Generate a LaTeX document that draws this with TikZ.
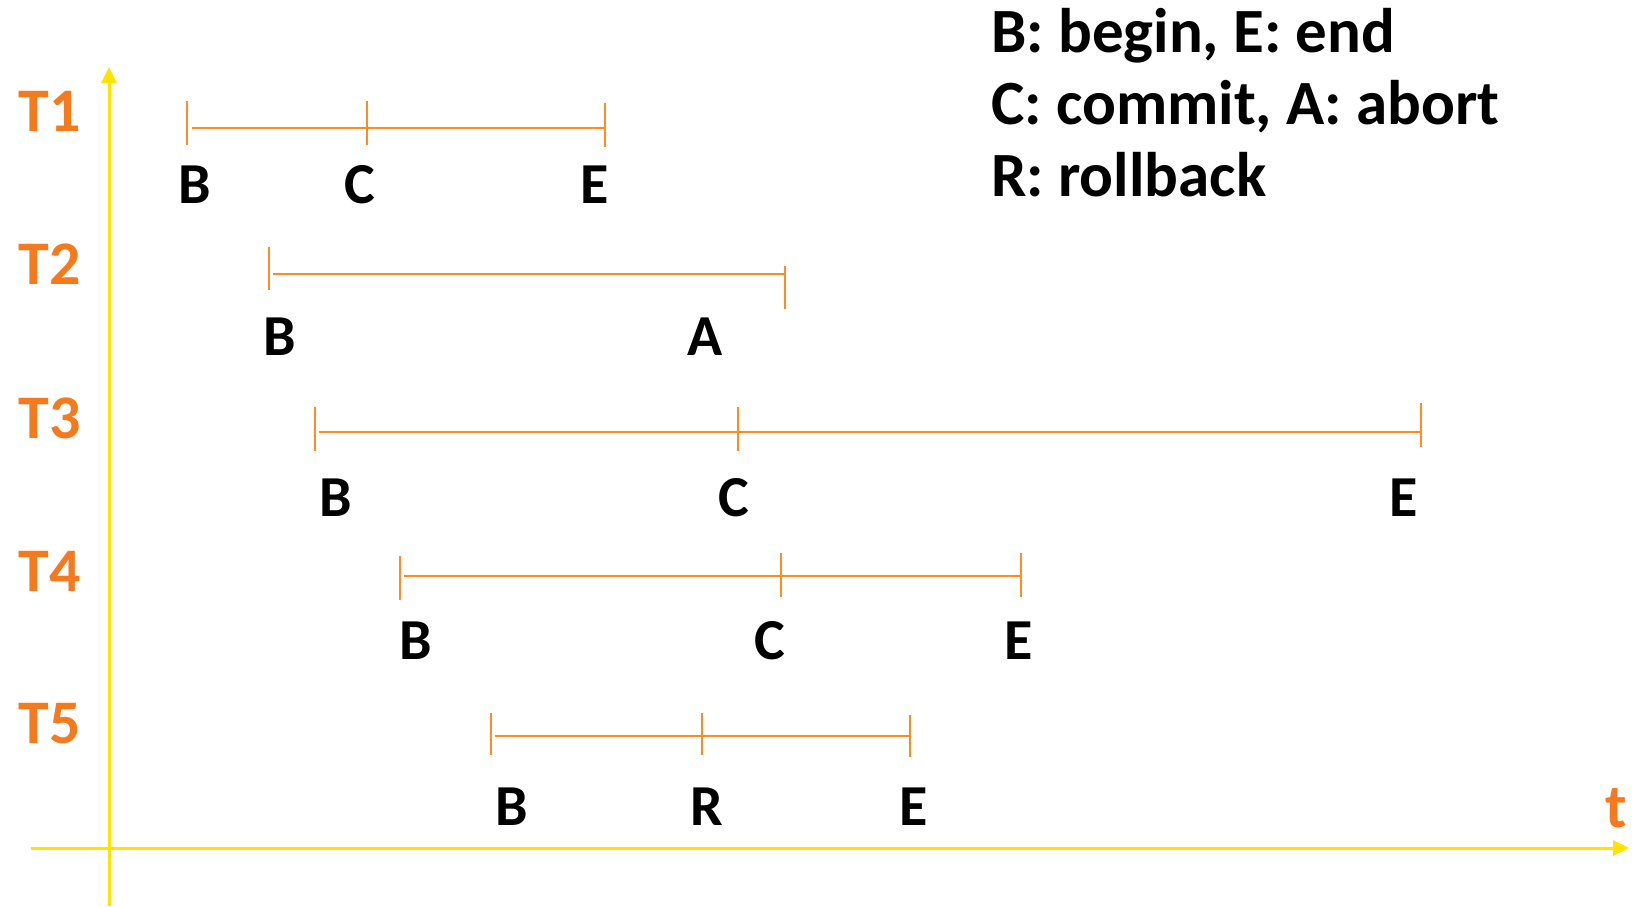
\documentclass[tikz,border=0pt]{standalone}
\usepackage{fontspec}
\setmainfont{Carlito}
\usetikzlibrary{arrows.meta}
\definecolor{axisyellow}{RGB}{255,228,0}
\definecolor{lineorange}{RGB}{255,140,35}
\definecolor{textorange}{RGB}{245,122,30}
\tikzset{
 axis/.style={draw=axisyellow, line width=3pt, -{Triangle[length=16pt,width=15pt]}},
 tl/.style={draw=lineorange, line width=2.5pt},
 tlabel/.style={text=textorange, font=\bfseries\fontsize{62}{62}\selectfont, inner sep=0},
 evlabel/.style={font=\bfseries\fontsize{58}{58}\selectfont, inner sep=0},
 legend/.style={font=\bfseries\fontsize{63}{63}\selectfont, inner sep=0, anchor=base west},
}
\begin{document}
\begin{tikzpicture}[x=1pt,y=-1pt]
\useasboundingbox (0,0) rectangle (1636,907);
% axes
\coordinate (yaxbot) at (109,906);
\coordinate (yaxtop) at (109,67);
\coordinate (xaxl) at (31,848);
\coordinate (xaxr) at (1629,848);
\draw[axis] (yaxbot) -- (yaxtop);
\draw[axis] (xaxl) -- (xaxr);
\node[tlabel] (tlab) at (1616,808) {t};
% row labels
\node[tlabel] (T1) at (50,111) {T1};
\node[tlabel] (T2) at (50,264) {T2};
\node[tlabel] (T3) at (50,418) {T3};
\node[tlabel] (T4) at (50,571) {T4};
\node[tlabel] (T5) at (50,724) {T5};
% T1
\coordinate (t1b) at (187,128); \coordinate (t1c) at (367,128); \coordinate (t1e) at (605,128);
\draw[tl] ([xshift=5pt]t1b) -- (t1e);
\draw[tl] (t1b) ++(0,-27) -- ++(0,44);
\draw[tl] (t1c) ++(0,-27) -- ++(0,44);
\draw[tl] (t1e) ++(0,-25) -- ++(0,44);
\node[evlabel] (l1b) at (195,185) {B};
\node[evlabel] (l1c) at (360,185) {C};
\node[evlabel] (l1e) at (595,185) {E};
% T2
\coordinate (t2b) at (269,274); \coordinate (t2a) at (785,274);
\draw[tl] ([xshift=4pt]t2b) -- (t2a);
\draw[tl] (t2b) ++(0,-27) -- ++(0,43);
\draw[tl] (t2a) ++(0,-8) -- ++(0,43);
\node[evlabel] (l2b) at (280,337) {B};
\node[evlabel] (l2a) at (705,337) {A};
% T3
\coordinate (t3b) at (315,432); \coordinate (t3c) at (738,432); \coordinate (t3e) at (1421,432);
\draw[tl] ([xshift=4pt]t3b) -- (t3e);
\draw[tl] (t3b) ++(0,-25) -- ++(0,44);
\draw[tl] (t3c) ++(0,-25) -- ++(0,44);
\draw[tl] (t3e) ++(0,-29) -- ++(0,44);
\node[evlabel] (l3b) at (336,498) {B};
\node[evlabel] (l3c) at (734,498) {C};
\node[evlabel] (l3e) at (1404,498) {E};
% T4
\coordinate (t4b) at (400,576); \coordinate (t4c) at (781,576); \coordinate (t4e) at (1021,576);
\draw[tl] ([xshift=4pt]t4b) -- (t4e);
\draw[tl] (t4b) ++(0,-20) -- ++(0,44);
\draw[tl] (t4c) ++(0,-23) -- ++(0,44);
\draw[tl] (t4e) ++(0,-23) -- ++(0,44);
\node[evlabel] (l4b) at (416,641) {B};
\node[evlabel] (l4c) at (770,641) {C};
\node[evlabel] (l4e) at (1019,641) {E};
% T5
\coordinate (t5b) at (491,736); \coordinate (t5r) at (702,736); \coordinate (t5e) at (910,736);
\draw[tl] ([xshift=4pt]t5b) -- (t5e);
\draw[tl] (t5b) ++(0,-23) -- ++(0,42);
\draw[tl] (t5r) ++(0,-23) -- ++(0,42);
\draw[tl] (t5e) ++(0,-21) -- ++(0,42);
\node[evlabel] (l5b) at (512,807) {B};
\node[evlabel] (l5r) at (707,807) {R};
\node[evlabel] (l5e) at (914,807) {E};
% legend
\node[legend] (leg1) at (991,53) {B: begin, E: end};
\node[legend] (leg2) at (991,124) {C: commit, A: abort};
\node[legend] (leg3) at (991,196) {R: rollback};
\end{tikzpicture}
\end{document}
